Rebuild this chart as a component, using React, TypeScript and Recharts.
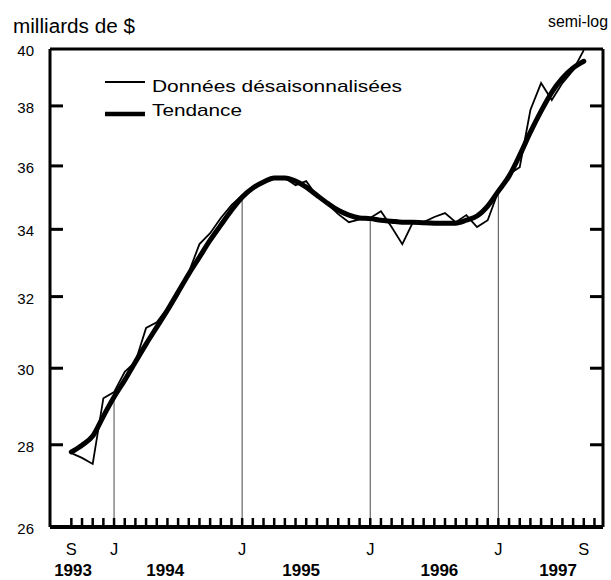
import { LineChart, Line, XAxis, YAxis, ReferenceLine } from 'recharts';

// Sep 1993 .. Sep 1997, monthly
const monthLetters = [
  'S', 'O', 'N', 'D',
  'J', 'F', 'M', 'A', 'M', 'J', 'J', 'A', 'S', 'O', 'N', 'D',
  'J', 'F', 'M', 'A', 'M', 'J', 'J', 'A', 'S', 'O', 'N', 'D',
  'J', 'F', 'M', 'A', 'M', 'J', 'J', 'A', 'S', 'O', 'N', 'D',
  'J', 'F', 'M', 'A', 'M', 'J', 'J', 'A', 'S',
];

// données désaisonnalisées (milliards de $)
const rawValues = [
  27.79, 27.67, 27.52, 29.2, 29.36, 29.9, 30.17, 31.11, 31.27, 31.67,
  32.04, 32.71, 33.55, 33.88, 34.35, 34.75, 35.06, 35.29, 35.48, 35.64,
  35.61, 35.38, 35.51, 35.03, 34.78, 34.47, 34.22, 34.31, 34.35, 34.56,
  34.07, 33.55, 34.22, 34.22, 34.38, 34.5, 34.22, 34.44, 34.07, 34.28,
  35.19, 35.73, 35.96, 37.86, 38.79, 38.2, 38.79, 39.24, 39.96,
];

// tendance
const trendValues = [
  27.82, 27.99, 28.22, 28.73, 29.23, 29.68, 30.17, 30.66, 31.13, 31.61,
  32.13, 32.66, 33.16, 33.67, 34.13, 34.59, 35.0, 35.29, 35.48, 35.61,
  35.61, 35.51, 35.32, 35.06, 34.81, 34.59, 34.44, 34.35, 34.33, 34.28,
  34.25, 34.22, 34.22, 34.2, 34.19, 34.19, 34.19, 34.28, 34.41, 34.72,
  35.19, 35.67, 36.35, 37.11, 37.82, 38.47, 38.96, 39.32, 39.56,
];

const yTicks = [26, 28, 30, 32, 34, 36, 38, 40];
const labelledMonths = [0, 4, 16, 28, 40, 48];
const dropMonths = [4, 16, 28, 40];
const years = ['1993', '1994', '1995', '1996', '1997'];
const yearCenters = [2, 10, 21.8, 33.8, 44.1];

const data = monthLetters.map((m, i) => ({ i, m, raw: rawValues[i], trend: trendValues[i] }));
const monthTicks = Array.from({ length: 50 }, (_, i) => i);

const CHART_W = 611;
const CHART_H = 580;
const TOP = 49;
const LEFT_W = 50;
const RIGHT_M = 8;
const MONTH_AXIS_H = 30;
const YEAR_AXIS_H = 23;
const PLOT_W = CHART_W - LEFT_W - RIGHT_M;
const PLOT_H = CHART_H - TOP - MONTH_AXIS_H - YEAR_AXIS_H;
const X_DOMAIN = [-2, 49.8];
const Y_DOMAIN = [26, 40];
const TICK_LEN = 13;
const innerTicks = yTicks.slice(1, -1);

// same log mapping as the y axis, used only for the inward frame ticks
const yPix = (v: number) =>
  TOP + (PLOT_H * (Math.log(Y_DOMAIN[1]) - Math.log(v))) / (Math.log(Y_DOMAIN[1]) - Math.log(Y_DOMAIN[0]));

const FONT = '"Liberation Sans", Arial, Helvetica, sans-serif';

const LeftTick = (props: any) => {
  const { x, y, payload } = props;
  return (
    <text x={x} y={y + 7} textAnchor="end" fontSize={15} fontFamily={FONT} fill="#000">
      {payload.value}
    </text>
  );
};

const MonthTick = (props: any) => {
  const { x, y, payload } = props;
  const idx = payload.value;
  return (
    <g>
      <line x1={x} x2={x} y1={y} y2={y - 9} stroke="#000" strokeWidth={2.5} />
      {labelledMonths.includes(idx) && (
        <text x={x} y={y + 28} textAnchor="middle" fontSize={16.5} fontFamily={FONT} fill="#000">
          {monthLetters[idx]}
        </text>
      )}
    </g>
  );
};

const YearTick = (props: any) => {
  const { x, y, index } = props;
  return (
    <text x={x} y={y + 19} textAnchor="middle" fontSize={17} fontWeight="bold" fontFamily={FONT} fill="#000">
      {years[index]}
    </text>
  );
};

export default function App() {
  return (
    <div style={{ position: 'absolute', left: 0, top: 0, background: '#fff' }}>
      <LineChart width={CHART_W} height={CHART_H} data={data} margin={{ top: TOP, right: RIGHT_M, bottom: 0, left: 0 }}>
        <XAxis
          dataKey="i"
          type="number"
          domain={X_DOMAIN}
          allowDataOverflow
          ticks={monthTicks}
          interval={0}
          tickSize={0}
          tickMargin={0}
          tickLine={false}
          axisLine={{ stroke: '#000', strokeWidth: 4 }}
          tick={MonthTick}
          height={MONTH_AXIS_H}
        />
        <XAxis
          xAxisId="year"
          type="number"
          domain={X_DOMAIN}
          allowDataOverflow
          ticks={yearCenters}
          interval={0}
          tickSize={0}
          tickMargin={0}
          tickLine={false}
          axisLine={false}
          tick={YearTick}
          height={YEAR_AXIS_H}
        />
        <YAxis
          yAxisId="left"
          type="number"
          scale="log"
          domain={Y_DOMAIN}
          allowDataOverflow
          ticks={yTicks}
          interval={0}
          tickSize={0}
          tickMargin={16}
          tickLine={false}
          axisLine={{ stroke: '#000', strokeWidth: 3 }}
          tick={LeftTick}
          width={LEFT_W}
        />
        <ReferenceLine yAxisId="left" y={40} stroke="#000" strokeWidth={3} ifOverflow="visible" />
        <ReferenceLine yAxisId="left" x={X_DOMAIN[1]} stroke="#000" strokeWidth={3} ifOverflow="visible" />
        {dropMonths.map((m) => (
          <ReferenceLine
            key={m}
            yAxisId="left"
            segment={[{ x: m, y: Y_DOMAIN[0] }, { x: m, y: trendValues[m] }]}
            stroke="#666"
            strokeWidth={1.2}
            ifOverflow="visible"
          />
        ))}
        <Line
          yAxisId="left"
          dataKey="trend"
          type="monotone"
          stroke="#000"
          strokeWidth={5}
          strokeLinecap="round"
          dot={false}
          activeDot={false}
          isAnimationActive={false}
        />
        <Line
          yAxisId="left"
          dataKey="raw"
          type="linear"
          stroke="#000"
          strokeWidth={1.8}
          dot={false}
          activeDot={false}
          isAnimationActive={false}
        />
        <g>
          {innerTicks.map((t) => (
            <rect key={`l${t}`} x={LEFT_W} y={yPix(t) - 1.5} width={TICK_LEN} height={3} fill="#000" />
          ))}
          {innerTicks.map((t) => (
            <rect
              key={`r${t}`}
              x={LEFT_W + PLOT_W - TICK_LEN}
              y={yPix(t) - 1.5}
              width={TICK_LEN}
              height={3}
              fill="#000"
            />
          ))}
        </g>
        <text x={13} y={33} fontSize={20} fontFamily={FONT} textLength={122} lengthAdjust="spacingAndGlyphs" fill="#000">
          milliards de $
        </text>
        <text x={548} y={27} fontSize={17} fontFamily={FONT} textLength={60} lengthAdjust="spacingAndGlyphs" fill="#000">
          semi-log
        </text>
        <line x1={105} x2={145} y1={82} y2={82} stroke="#000" strokeWidth={2} />
        <text x={152} y={92} fontSize={17} fontFamily={FONT} textLength={250} lengthAdjust="spacingAndGlyphs" fill="#000">
          Données désaisonnalisées
        </text>
        <line x1={105} x2={145} y1={114} y2={114} stroke="#000" strokeWidth={4.5} />
        <text x={152} y={116} fontSize={17} fontFamily={FONT} textLength={90} lengthAdjust="spacingAndGlyphs" fill="#000">
          Tendance
        </text>
      </LineChart>
    </div>
  );
}
